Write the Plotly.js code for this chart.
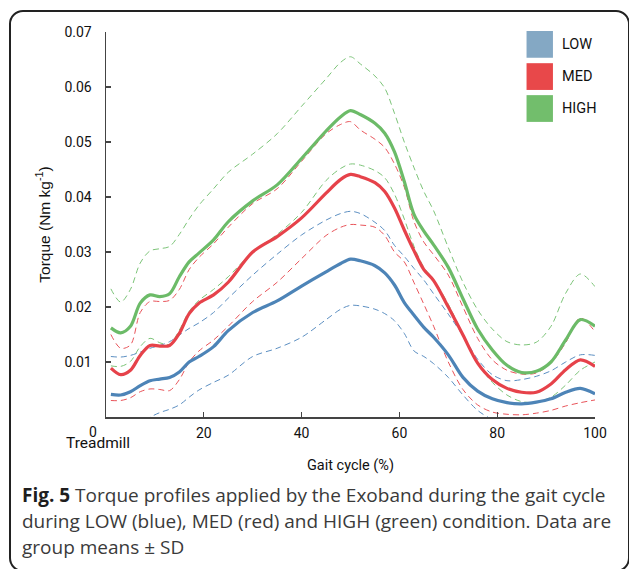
<!DOCTYPE html>
<html>
<head>
<meta charset="utf-8">
<script src="https://cdn.plot.ly/plotly-3.0.1.min.js"></script>
<style>
  html, body { margin: 0; padding: 0; background: #fff; overflow: hidden; }
  #wrap { position: relative; width: 629px; height: 569px; overflow: hidden; }
  #frame { position: absolute; left: 9px; top: 10px; width: 621px; height: 562px; box-sizing: border-box;
           border: 2px solid #222; border-radius: 14px; }
  #chart { position: absolute; left: 0; top: 0; width: 629px; height: 569px; }
  #caption { position: absolute; left: 22px; top: 482px; width: 605px; font-family: "Open Sans", sans-serif;
             font-size: 19px; letter-spacing: 0px; line-height: 26px; color: #3a3a3a; white-space: nowrap; }
  #caption b { color: #1e1e1e; }
</style>
</head>
<body>
<div id="wrap">
  <div id="frame"></div>
  <div id="chart"></div>
  <div id="caption"><b>Fig. 5</b> Torque profiles applied by the Exoband during the gait cycle<br>during LOW (blue), MED (red) and HIGH (green) condition. Data are<br>group means ± SD</div>
</div>
<script>
// Gait cycle (%)
const gait = [1, 3, 5, 7, 9, 11, 13, 15, 17, 19, 22, 25, 30, 35, 40, 45, 48, 50, 52, 55, 57, 59, 61, 63, 65, 67, 70, 73, 76, 79, 82, 85, 88, 91, 94, 97, 100];

// LOW condition (Nm kg^-1)
const lowMean  = [0.0041, 0.0040, 0.0046, 0.0057, 0.0066, 0.0069, 0.0072, 0.0082, 0.0100, 0.0110, 0.0128, 0.0157, 0.0190, 0.0211, 0.0238, 0.0264, 0.0279, 0.0287, 0.0284, 0.0275, 0.0262, 0.0240, 0.0208, 0.0185, 0.0163, 0.0145, 0.0113, 0.0072, 0.0047, 0.0033, 0.0026, 0.0024, 0.0027, 0.0033, 0.0045, 0.0052, 0.0042];
const lowUpper = [0.0110, 0.0109, 0.0112, 0.0118, 0.0125, 0.0130, 0.0137, 0.0149, 0.0161, 0.0171, 0.0190, 0.0216, 0.0258, 0.0296, 0.0331, 0.0358, 0.0370, 0.0374, 0.0370, 0.0354, 0.0339, 0.0312, 0.0292, 0.0270, 0.0249, 0.0224, 0.0187, 0.0148, 0.0105, 0.0077, 0.0066, 0.0068, 0.0074, 0.0084, 0.0100, 0.0113, 0.0112];
const lowLower = [-0.0040, -0.0035, -0.0030, -0.0018, -0.0001, 0.0008, 0.0014, 0.0022, 0.0036, 0.0049, 0.0063, 0.0076, 0.0110, 0.0125, 0.0145, 0.0177, 0.0196, 0.0203, 0.0202, 0.0196, 0.0188, 0.0175, 0.0152, 0.0120, 0.0110, 0.0097, 0.0072, 0.0040, 0.0012, -0.0005, -0.0020, -0.0030, -0.0030, -0.0025, -0.0020, -0.0015, -0.0010];

// MED condition
const medMean  = [0.0089, 0.0077, 0.0085, 0.0112, 0.0130, 0.0129, 0.0130, 0.0152, 0.0188, 0.0207, 0.0222, 0.0245, 0.0300, 0.0328, 0.0362, 0.0407, 0.0432, 0.0441, 0.0437, 0.0426, 0.0410, 0.0380, 0.0340, 0.0302, 0.0268, 0.0248, 0.0200, 0.0149, 0.0098, 0.0068, 0.0052, 0.0045, 0.0045, 0.0060, 0.0086, 0.0104, 0.0092];
const medUpper = [0.0150, 0.0125, 0.0131, 0.0190, 0.0210, 0.0210, 0.0212, 0.0232, 0.0268, 0.0290, 0.0315, 0.0345, 0.0388, 0.0415, 0.0465, 0.0515, 0.0532, 0.0537, 0.0522, 0.0505, 0.0490, 0.0460, 0.0418, 0.0355, 0.0318, 0.0295, 0.0258, 0.0200, 0.0143, 0.0104, 0.0085, 0.0078, 0.0080, 0.0098, 0.0135, 0.0180, 0.0155];
const medLower = [0.0030, 0.0030, 0.0035, 0.0046, 0.0051, 0.0050, 0.0048, 0.0068, 0.0100, 0.0120, 0.0140, 0.0165, 0.0210, 0.0245, 0.0288, 0.0330, 0.0345, 0.0350, 0.0349, 0.0345, 0.0330, 0.0300, 0.0282, 0.0244, 0.0205, 0.0165, 0.0100, 0.0050, 0.0022, 0.0009, 0.0005, 0.0004, 0.0007, 0.0012, 0.0020, 0.0026, 0.0031];

// HIGH condition
const highMean  = [0.0162, 0.0153, 0.0165, 0.0207, 0.0222, 0.0219, 0.0224, 0.0255, 0.0282, 0.0298, 0.0322, 0.0355, 0.0393, 0.0422, 0.0470, 0.0520, 0.0546, 0.0557, 0.0550, 0.0534, 0.0516, 0.0482, 0.0428, 0.0368, 0.0338, 0.0313, 0.0272, 0.0215, 0.0160, 0.0122, 0.0094, 0.0081, 0.0083, 0.0100, 0.0140, 0.0177, 0.0165];
const highUpper = [0.0233, 0.0209, 0.0232, 0.0280, 0.0302, 0.0306, 0.0310, 0.0332, 0.0360, 0.0385, 0.0415, 0.0445, 0.0478, 0.0515, 0.0565, 0.0615, 0.0645, 0.0655, 0.0642, 0.0620, 0.0598, 0.0552, 0.0500, 0.0453, 0.0410, 0.0375, 0.0308, 0.0245, 0.0195, 0.0160, 0.0137, 0.0131, 0.0136, 0.0165, 0.0225, 0.0260, 0.0237];
const highLower = [0.0093, 0.0092, 0.0101, 0.0128, 0.0143, 0.0135, 0.0132, 0.0158, 0.0192, 0.0212, 0.0232, 0.0255, 0.0300, 0.0332, 0.0372, 0.0430, 0.0452, 0.0460, 0.0458, 0.0448, 0.0435, 0.0405, 0.0360, 0.0310, 0.0272, 0.0250, 0.0205, 0.0150, 0.0098, 0.0063, 0.0040, 0.0028, 0.0027, 0.0036, 0.0058, 0.0085, 0.0100];

const xTickVals = [0, 20, 40, 60, 80, 100];
const xTickText = ["", "20", "40", "60", "80", "100"];
const yTickVals = [0.01, 0.02, 0.03, 0.04, 0.05, 0.06, 0.07];
const yTickText = ["0.01", "0.02", "0.03", "0.04", "0.05", "0.06", "0.07"];
const legendNames = ["LOW", "MED", "HIGH"];

const C = {
  low:  {mean: "#4d84b7", sd: "#5c8fc2", swatch: "#84a8c4"},
  med:  {mean: "#e6424a", sd: "#e9545a", swatch: "#e8484a"},
  high: {mean: "#6cbb68", sd: "#7cc478", swatch: "#72be6c"}
};

function sd(y, color) {
  return {x: gait, y: y, type: "scatter", mode: "lines", hoverinfo: "skip", showlegend: false,
          line: {color: color, width: 1, dash: "6px,4px", shape: "spline", smoothing: 0.9}};
}
function mean(y, color, name) {
  return {x: gait, y: y, type: "scatter", mode: "lines", name: name, showlegend: false,
          line: {color: color, width: 3.2, shape: "spline", smoothing: 0.9}};
}

const traces = [
  sd(highUpper, C.high.sd), sd(highLower, C.high.sd),
  sd(medUpper, C.med.sd), sd(medLower, C.med.sd),
  sd(lowUpper, C.low.sd), sd(lowLower, C.low.sd),
  mean(highMean, C.high.mean, legendNames[2]),
  mean(medMean, C.med.mean, legendNames[1]),
  mean(lowMean, C.low.mean, legendNames[0])
];

const font = "Roboto, 'DejaVu Sans', sans-serif";
const swatchColors = [C.low.swatch, C.med.swatch, C.high.swatch];
const shapes = [];
const annotations = [];
const boxTop = [1.0026, 0.919, 0.836];
legendNames.forEach((n, i) => {
  shapes.push({type: "rect", xref: "paper", yref: "paper", x0: 0.860, x1: 0.914,
               y0: boxTop[i] - 0.0695, y1: boxTop[i], fillcolor: swatchColors[i], line: {width: 0}});
  annotations.push({xref: "paper", yref: "paper", x: 0.928, y: boxTop[i] - 0.035, xanchor: "left", yanchor: "middle",
                    text: n, showarrow: false, font: {family: font, size: 14.5, color: "#111"}});
});
annotations.push({xref: "paper", yref: "paper", x: -0.027, y: -0.038, xanchor: "center", yanchor: "middle",
                  text: "0", showarrow: false, font: {family: font, size: 14, color: "#111"}});
annotations.push({xref: "paper", yref: "paper", x: -0.016, y: -0.067, xanchor: "center", yanchor: "middle",
                  text: "Treadmill", showarrow: false, font: {family: font, size: 15.5, color: "#111"}});

const layout = {
  width: 629, height: 569,
  margin: {l: 106, r: 34, t: 32, b: 152},
  paper_bgcolor: "rgba(0,0,0,0)", plot_bgcolor: "rgba(0,0,0,0)",
  showlegend: false,
  font: {family: font, color: "#111"},
  xaxis: {
    range: [0, 100], tickvals: xTickVals, ticktext: xTickText, ticks: "inside", ticklen: 5, tickwidth: 1.3,
    tickcolor: "#444", showline: true, linecolor: "#444", linewidth: 1.5, showgrid: false, zeroline: false,
    ticklabelstandoff: 3,
    tickfont: {family: font, size: 14, color: "#111"},
    title: {text: "Gait cycle (%)", font: {family: font, size: 14.5, color: "#111"}, standoff: 19}
  },
  yaxis: {
    range: [0, 0.07], tickvals: yTickVals, ticktext: yTickText, ticks: "inside", ticklen: 5, tickwidth: 1.3,
    tickcolor: "#444", showline: true, linecolor: "#444", linewidth: 1.5, showgrid: false, zeroline: false,
    ticklabelstandoff: 10,
    tickfont: {family: font, size: 14, color: "#111"},
    title: {text: "Torque (Nm kg<sup>-1</sup>)", font: {family: "'Liberation Sans', Arial, sans-serif", size: 15.5, color: "#111"}, standoff: 10}
  },
  shapes: shapes,
  annotations: annotations
};

Plotly.newPlot("chart", traces, layout, {displayModeBar: false, staticPlot: true});
</script>
</body>
</html>
